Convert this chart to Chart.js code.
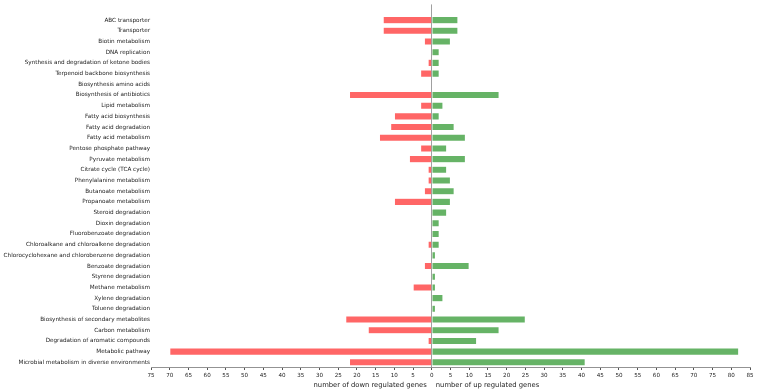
<!DOCTYPE html>
<html>
<head>
<meta charset="utf-8">
<script src="https://cdn.jsdelivr.net/npm/chart.js@4.4.1/dist/chart.umd.min.js"></script>
<style>
  html, body { margin: 0; padding: 0; background: #fff; }
</style>
</head>
<body>
<canvas id="chart" width="758" height="391"></canvas>
<script>
// KEGG pathways, top to bottom
const categories = [
  'ABC transporter', 'Transporter', 'Biotin metabolism', 'DNA replication',
  'Synthesis and degradation of ketone bodies', 'Terpenoid backbone biosynthesis',
  'Biosynthesis amino acids', 'Biosynthesis of antibiotics', 'Lipid metabolism',
  'Fatty acid biosynthesis', 'Fatty acid degradation', 'Fatty acid metabolism',
  'Pentose phosphate pathway', 'Pyruvate metabolism', 'Citrate cycle (TCA cycle)',
  'Phenylalanine metabolism', 'Butanoate metabolism', 'Propanoate metabolism',
  'Steroid degradation', 'Dioxin degradation', 'Fluorobenzoate degradation',
  'Chloroalkane and chloroalkene degradation', 'Chlorocyclohexane and chlorobenzene degradation',
  'Benzoate degradation', 'Styrene degradation', 'Methane metabolism', 'Xylene degradation',
  'Toluene degradation', 'Biosynthesis of secondary metabolites', 'Carbon metabolism',
  'Degradation of aromatic compounds', 'Metabolic pathway',
  'Microbial metabolism in diverse environments'
];

// number of down / up regulated genes
const down = [13, 13, 2, 0, 1, 3, 0, 22, 3, 10, 11, 14, 3, 6, 1, 1, 2, 10, 0, 0, 0, 1, 0, 2, 0, 5, 0, 0, 23, 17, 1, 70, 22];
const up   = [7, 7, 5, 2, 2, 2, 0, 18, 3, 2, 6, 9, 4, 9, 4, 5, 6, 5, 4, 2, 2, 2, 1, 10, 1, 1, 3, 1, 25, 18, 12, 82, 41];

const downTitle = 'number of down regulated genes';
const upTitle = 'number of up regulated genes';

Chart.defaults.font.family = 'DejaVu Sans';
Chart.defaults.color = '#222';

// two axis titles either side of zero
const sideTitles = {
  id: 'sideTitles',
  afterDraw(chart) {
    const ctx = chart.ctx;
    const x0 = chart.scales.x.getPixelForValue(0);
    const y = chart.chartArea.bottom + 18;
    ctx.save();
    ctx.font = '6.8px "DejaVu Sans"';
    ctx.fillStyle = '#222';
    ctx.textBaseline = 'middle';
    ctx.textAlign = 'right';
    ctx.fillText(downTitle, x0 - 5, y);
    ctx.textAlign = 'left';
    ctx.fillText(upTitle, x0 + 4, y);
    ctx.restore();
  }
};

new Chart(document.getElementById('chart'), {
  type: 'bar',
  data: {
    datasets: [
      {
        label: 'down',
        data: down.map((v, i) => ({ y: i, x: -v })),
        backgroundColor: '#ff6666',
        borderColor: 'rgba(255,255,255,0.5)',
        borderWidth: 0.6,
        barPercentage: 0.85,
        categoryPercentage: 0.8
      },
      {
        label: 'up',
        data: up.map((v, i) => ({ y: i, x: v })),
        backgroundColor: '#66b366',
        borderColor: 'rgba(255,255,255,0.5)',
        borderWidth: 0.6,
        barPercentage: 0.85,
        categoryPercentage: 0.8
      }
    ]
  },
  options: {
    indexAxis: 'y',
    responsive: false,
    animation: false,
    layout: { padding: { top: 4, right: 8, left: 0, bottom: 0 } },
    plugins: { legend: { display: false }, tooltip: { enabled: false } },
    scales: {
      x: {
        type: 'linear',
        stacked: true,
        min: -75,
        max: 85,
        afterFit: (s) => { s.height = 24; },
        ticks: {
          stepSize: 5,
          padding: 2,
          font: { size: 5.6 },
          callback: (v) => Math.abs(v)
        },
        grid: {
          color: (c) => c.tick && c.tick.value === 0 ? '#a0a0a0' : 'rgba(0,0,0,0)',
          lineWidth: 1,
          tickColor: '#555',
          tickLength: 3
        },
        border: { display: true, color: '#777', width: 0.8 }
      },
      y: {
        type: 'linear',
        stacked: true,
        reverse: true,
        offset: false,
        min: -1.47,
        max: 32.44,
        afterFit: (s) => { s.width = 151; },
        afterBuildTicks: (s) => { s.ticks = categories.map((c, i) => ({ value: i })); },
        ticks: {
          padding: 1,
          autoSkip: false,
          font: { size: 5.7 },
          callback: (v) => categories[v]
        },
        grid: { display: false, drawTicks: false },
        border: { display: false }
      }
    }
  },
  plugins: [sideTitles]
});
</script>
</body>
</html>
